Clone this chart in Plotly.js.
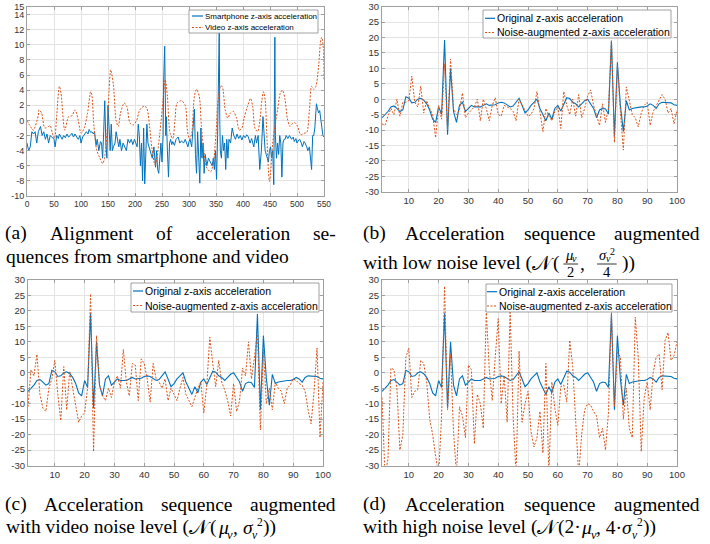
<!DOCTYPE html>
<html><head><meta charset="utf-8">
<script src="https://cdn.plot.ly/plotly-3.0.1.min.js"></script>
<style>html,body{margin:0;padding:0;background:#fff}#chart{width:710px;height:544px}</style>
</head><body><div id="chart"></div>
<script>
// ---------------- DATA ----------------
// (a) smartphone z-axis acceleration (sample index, value)
const phoneT = [0,3,6,9,12,15,18,21,25,28,
31,34,37,40,43,46,50,52,55,58,
60,63,65,68,71,74,77,80,83,86,
89,92,95,98,100,103,105,108,110,113,
115,118,120,123,125,128,130,133,136,138,
140,142,144,146,148,150,152,154,156,158,
160,163,165,168,170,172,175,178,181,184,
187,190,193,196,199,202,204,206,208,210,
212,214,216,218,220,222,224,226,229,232,
235,238,240,242,244,246,248,250,252,253,
255,257,258,260,262,264,266,268,270,273,
276,280,283,286,290,293,296,298,300,302,
305,308,310,312,314,316,318,320,322,324,
326,328,330,333,336,340,343,345,347,349,
351,353,355,356,357,358,360,362,364,366,
368,370,372,374,377,380,383,386,389,392,
395,398,401,404,407,410,413,416,420,423,
425,428,431,434,437,439,441,443,445,447,
449,451,453,455,457,458,459,460,462,464,
466,468,470,472,474,476,478,480,483,486,
490,493,495,498,500,503,505,508,510,513,
515,518,520,523,525,527,529,531,533,536,
538,540,542,544,546,548,550];
const phoneV = [-3,-4,-3.5,-1.5,-1.8,-1.5,-3,-1.5,-0.8,-2,
-1.5,-2.5,-1.8,-3,-2,-2.2,-2.5,-3.5,-2,-2.4,
-1.8,-2.2,-2.5,-2,-2.3,-1.8,-2.2,-2,-1.7,-2.2,
-1.8,-2.2,-2.5,-2,-3,-2.2,-2,-1.6,-1.5,-1.8,
-1.2,-1.6,-1.5,-1.8,-1.5,-3.3,-2.5,-4,-2.8,-3,
-5,-1.5,2.6,-3,-5,2,-2,-4,-0.5,-4,
-3.5,-3,-1.5,-2.5,-3.5,-2.5,-4,-3,-3.5,-4,
-2.5,-3,-2.5,-3.2,-2.5,-3,-3.5,-0.5,-2,-6,
-3,-8,-1,-8.4,-3,-0.5,-3,-3.5,-4.5,-5,
-3.5,-6.2,-4,-6.5,-7,-5,-3,-5.5,-2,5,
9.8,-2,0.5,-4,-7.5,-3,-2.5,-3.2,-2.8,-3.3,
-2.5,-2.2,-3,-2.7,-3,-2.5,-3.2,-3.5,-2.8,-2.5,
-3.5,-1,1.5,-4.5,-7,-1.5,-5,-8.3,-1,-5,
-3,-7,-4.5,-6,-5,-5.5,-6,-5,-6.5,-4,
-7.8,-2,5,12,0,-4,-5,-2,-4,-3,
-6.5,-2.5,-5,-2.5,-3,-1,-2,-2.5,-1.8,-2.4,
-2,-2.6,-2,-2.3,-1.9,-2.2,-3,-2.4,-3.5,-2,
-3,-2,-6.5,-4,0.5,-2.5,-4,-4.5,-5,-5.5,
-4,-3.5,-5,-4,-8.5,-1,11,-2,-5,-3,
-4.5,-2,-3,-7.5,-3,-2.5,-2.5,-2,-2.4,-2,
-2.5,-2.2,-2.8,-2.4,-3,-2.6,-2.5,-3,-3.5,-2.8,
-3,-3.5,-4,-3.5,-5,-6.5,-2,-2,-1,2.2,
1.5,1,1.3,0,-1,-2,-2.2];

// (a) video z-axis acceleration
const videoT = [0,9,12,21,22,27,33,40,43,47,
51,55,60,63,70,77,83,89,95,100,
106,112,118,120,124,129,135,140,143,148,
152,155,160,165,169,173,180,185,191,197,
203,209,217,222,227,231,237,240,246,252,
256,260,265,270,274,278,286,293,297,301,
305,310,314,319,323,328,333,340,345,350,
354,359,362,367,372,376,382,388,393,398,
402,408,414,418,422,427,431,435,438,441,
444,447,449,451,455,459,464,469,473,478,
482,487,492,496,501,507,513,518,523,527,
531,535,540,544,546,549,550];
const videoV = [0,-1.1,-1.3,0.7,1.4,1,-1,-0.8,-0.7,-1.7,
-2.4,0.7,4.5,3.6,-1.3,0.5,0.6,1.4,0,-1.7,
-1,0.9,3.8,3.4,-0.8,-3.9,-5,-5.7,-5.2,-1.7,
4,6.7,4.7,0,-0.8,0.9,2.3,1.8,-0.4,-0.6,
0,1.4,1.9,1.6,-0.8,-3.5,-5.9,-5.2,-1.7,2.7,
5.4,3.2,-1.7,-2.4,0,2.3,2.6,2,-1.3,-2.5,
-1.7,3.2,4.1,3.2,-0.8,-4.3,-6.3,-6.8,-5.7,-1.7,
2.7,4.6,4.4,1.4,0.3,0.9,1.2,0.3,-1.3,-1,
0.3,1.8,2.9,1.8,-1,-1.5,-0.2,2.7,3.8,2.7,
-1.7,-6.5,-8.1,-7,-3,-0.8,1.4,3.6,4,2.7,
0.3,-0.8,-0.4,-0.3,-0.8,-1.9,-1.7,-1.6,1.4,4.5,
4.1,4.5,7.2,10.6,11,9.3,5.4];

// (b)-(d) original z-axis acceleration, samples 1..100
const originalAcc = [-6,-5,-4,-2.5,-2.2,-3,-4,-3.5,0.8,0.3,
-1.2,-1,0,0.3,-0.3,-1.5,-3.5,-6.5,-7.5,-2.5,
-4.8,19.2,-11.5,10,-4,-7.5,-2,-1,-4,-3,
-2,-2.5,-2.4,-2.5,-2,-1.5,-2,-2,-1.8,-1.2,
-1,-1.2,-2,-2.5,-2.2,-1,0.3,-2,-4.5,-3.5,
-2,-1,0,-3,-5,-7,-4.5,-6.5,-3,-2,
-3.8,-1.5,0.5,0.2,-1,-1.5,-2.5,-1.5,-0.5,0,
-1.5,-3,-6,-3.5,-3,-3.2,-4.8,19,-12,12,
-2,-10.5,-0.5,-3.5,-3,-2.8,-2.8,-2.5,-2.5,-2.2,
-1.5,-2,-3,-1.5,-1,-1,-1,-1.2,-1.8,-2];

// (b) noise-augmented, low noise level
const noiseLow = [-8,-8.5,-5.5,-3,-5,0,-5.5,-1,-1,-0.5,
7.5,-1,-2.5,4.2,-4.5,-0.5,-3,-5,-12.5,-2,
-6.5,11.5,-10,13,-3,-5,-3.5,2,-6,-4.5,
-3.5,-2.5,0,-7,0,-3,-7,-2,0.5,-5,
-5.5,-2,-2.5,-3,-4,-7,0,-2,-4,-5.5,
-5,-3,2.5,-3.5,-10.5,-3,-5.5,-7,-4,-2.5,
-9.5,2.5,-2,-5,0,-5.5,1.5,-6,-3,1,
3,-2,-5,-8.5,-1.5,-7.5,-3,19,-14,11,
-4,-16.5,4,0,-5,-6,-9,-4.5,-2,-1,
-8.5,-4,-2,0,1.5,0,-4.5,-3,-8,-3.5];

// (c) noise-augmented, video noise level
const noiseVideo = [-11,1,-1,6,-7,-11.5,-12.5,-5,-2,4,
-7,-15.5,2,-12,0.5,-5,-10,-16,-14,-13,
-5,25.5,-25.5,12,-4,-7.5,-9,-5,-8,-3,
-1,-5,7.5,-3,-7.5,3,2.5,-9,4.5,3,
-2,-9.5,3,-2,-3,-5,-2,-9,-5,-7,
-9,-5,-1.5,-7,-9,-11,-8,-5,-3,-13,
-4,11.5,3,-4.5,4,-3,-5.5,-9,-14,-3.5,
-12.5,-9,1.5,-1,10,-2,5,13,-18.5,7.5,
-10,-5,-12,-3,-5,-6,-10,-5,-4,-2,
-2.5,-3.5,-4,-6,-12,-16.5,-6,8,-21,-3];

// (d) noise-augmented, high noise level
const noiseHigh = [-8,-33,-28,1.5,1,-5,-25,-20,5,8,
-8,-6,-5.5,4,3,-3,-15,-20,-27,-33,
-14,28,-12,6,-19,-33,-11,-14,-21,2.5,
1,-23,-7,-10,-18,20,1,-9,5,17.5,
-10,-1,-16,20,-14,-33,7,-16,-10,-6,
-19,-24,-21,-12.5,-26,3,-33,-3,-11.5,-17,
-4.5,-4,-9.5,10.5,2,-15,-33,-20,-12,-10,
-10.5,-12.5,-14,-21,-18,-25,-13,19.5,-11,7,
5,-15,-5,-18,-21,18,5,-25.5,-8,-3,
-12,0,5,6,-5.5,10.5,13,4,5.5,10];

const sampleIdx = originalAcc.map((_, i) => i + 1);

const xTicksA = [0,50,100,150,200,250,300,350,400,450,500,550];
const yTicksA = [-10,-8,-6,-4,-2,0,2,4,6,8,10,12,14,15];
const xTicksB = [10,20,30,40,50,60,70,80,90,100];
const yTicksB = [-30,-25,-20,-15,-10,-5,0,5,10,15,20,25,30];

const legendA = ['Smartphone z-axis acceleration', 'Video z-axis acceleration'];
const legendB = ['Original z-axis acceleration', 'Noise-augmented z-axis acceleration'];

// ---------------- STYLE / LAYOUT ----------------
const W = 710, H = 544;
const BLUE = '#0072BD', ORANGE = '#D95319';
const DASH = '2px,1.5px';
const px = x => x / W, py = y => 1 - y / H;
const TICKF = 'Liberation Sans, Arial, sans-serif';
const CAPF = 'Liberation Serif';

function xax(l, r, range, ticks, fs, anchor) {
  return {domain:[px(l), px(r)], range, tickvals:ticks, ticktext:ticks.map(String), anchor,
    showgrid:true, gridcolor:'#e3e3e3', gridwidth:1, zeroline:false,
    showline:true, linecolor:'#a0a0a0', linewidth:1, mirror:'ticks',
    ticks:'inside', ticklen:3, tickcolor:'#a0a0a0',
    tickfont:{family:TICKF, size:fs, color:'#333'}, fixedrange:true};
}
function yax(top, bot, range, ticks, fs, anchor) {
  return {domain:[py(bot), py(top)], range, tickvals:ticks, ticktext:ticks.map(String), anchor,
    showgrid:true, gridcolor:'#e3e3e3', gridwidth:1, zeroline:false,
    showline:true, linecolor:'#a0a0a0', linewidth:1, mirror:'ticks',
    ticks:'inside', ticklen:3, tickcolor:'#a0a0a0',
    tickfont:{family:TICKF, size:fs, color:'#333'}, fixedrange:true};
}

const traces = [
  {x:phoneT, y:phoneV, xaxis:'x', yaxis:'y', mode:'lines', line:{color:BLUE, width:1}},
  {x:videoT, y:videoV, xaxis:'x', yaxis:'y', mode:'lines', line:{color:ORANGE, width:1, dash:DASH, shape:'spline', smoothing:0.8}},
  {x:sampleIdx, y:originalAcc, xaxis:'x2', yaxis:'y2', mode:'lines', line:{color:BLUE, width:1.1}},
  {x:sampleIdx, y:noiseLow, xaxis:'x2', yaxis:'y2', mode:'lines', line:{color:ORANGE, width:1, dash:DASH}},
  {x:sampleIdx, y:originalAcc, xaxis:'x3', yaxis:'y3', mode:'lines', line:{color:BLUE, width:1.1}},
  {x:sampleIdx, y:noiseVideo, xaxis:'x3', yaxis:'y3', mode:'lines', line:{color:ORANGE, width:1, dash:DASH}},
  {x:sampleIdx, y:originalAcc, xaxis:'x4', yaxis:'y4', mode:'lines', line:{color:BLUE, width:1.1}},
  {x:sampleIdx, y:noiseHigh, xaxis:'x4', yaxis:'y4', mode:'lines', line:{color:ORANGE, width:1, dash:DASH}}
];
traces.forEach(t => { t.showlegend = false; t.hoverinfo = 'skip'; });

const shapes = [], annotations = [];

// custom MATLAB-like legends
function legend(box, rows, labels, sx0, sx1, tx, fs) {
  shapes.push({type:'rect', xref:'paper', yref:'paper', x0:px(box[0]), x1:px(box[1]), y0:py(box[3]), y1:py(box[2]),
    fillcolor:'#fff', line:{color:'#8c8c8c', width:0.8}, layer:'above'});
  const styles = [{color:BLUE, width:1.2}, {color:ORANGE, width:1.1, dash:DASH}];
  rows.forEach((ry, i) => {
    shapes.push({type:'line', xref:'paper', yref:'paper', x0:px(sx0), x1:px(sx1), y0:py(ry), y1:py(ry), line:styles[i], layer:'above'});
    annotations.push({xref:'paper', yref:'paper', x:px(tx), y:py(ry), xanchor:'left', yanchor:'middle',
      text:labels[i], showarrow:false, borderpad:0, font:{family:TICKF, size:fs, color:'#000'}});
  });
}
legend([189, 318, 10, 33], [16, 27.5], legendA, 192, 203, 204, 8);
legend([483, 671, 10, 38], [18.3, 32.5], legendB, 485, 495, 496, 10.5);
legend([131, 319, 283, 312], [291, 305.5], legendB, 133, 143, 144, 10.5);
legend([486, 672, 284, 312], [291.7, 306], legendB, 487, 497, 498, 10.5);

// captions
const ctx = document.createElement('canvas').getContext('2d');
function tw(text, size, italic) { ctx.font = (italic ? 'italic ' : '') + size + 'px "' + CAPF + '"'; return ctx.measureText(text).width; }
function put(text, x, base, size, italic, anchor) {
  annotations.push({xref:'paper', yref:'paper', x:px(x), y:py(base - 0.3375 * size), xanchor:anchor || 'left', yanchor:'middle',
    text: italic ? '<i>' + text + '</i>' : text, showarrow:false, borderpad:0, borderwidth:0,
    font:{family:CAPF, size, color:'#000'}});
}
const FS = 19.5;
function justify(words, L, R, base) {
  const ws = words.map(w => tw(w, FS));
  const gap = (R - L - ws.reduce((a, b) => a + b, 0)) / (words.length - 1);
  let x = L;
  words.forEach((w, i) => { put(w, x, base, FS); x += ws[i] + gap; });
}
// sequential run of pieces: {t, z, i, dy, dx, adv, w}
function run(items, x, base) {
  items.forEach(it => {
    const z = it.z || FS;
    put(it.t, x + (it.dx || 0), base + (it.dy || 0), z, it.i);
    if (it.adv !== false) x += (it.w !== undefined ? it.w : tw(it.t, z, it.i)) + (it.dx || 0);
  });
  return x;
}

justify(['(a)', 'Alignment', 'of', 'acceleration', 'se-'], 5, 336, 240);
put('quences from smartphone and video', 6, 263, FS);
justify(['(b)', 'Acceleration', 'sequence', 'augmented'], 363, 700, 240);
justify(['(c)', 'Acceleration', 'sequence', 'augmented'], 5, 336, 511);
justify(['(d)', 'Acceleration', 'sequence', 'augmented'], 363, 700, 511);

// (b) line 2 with fractions
(function(){
  const base = 270;
  let x = run([{t:'with low noise level ('}, {t:'𝒩'}, {t:'(', dx:2}], 363, base);
  const SZ = 14.5, SS = 10;
  function frac(numItems, den, x0) {
    const nw = numItems.reduce((a, it) => a + (it.adv === false ? 0 : (it.w !== undefined ? it.w : tw(it.t, it.z || SZ, it.i))), 0);
    const dw = tw(den, SZ);
    const w = Math.max(nw, dw) + 3;
    run(numItems, x0 + (w - nw) / 2, base - 10.5);
    put(den, x0 + w / 2, base + 6.5, SZ, false, 'center');
    shapes.push({type:'line', xref:'paper', yref:'paper', x0:px(x0), x1:px(x0 + w), y0:py(base - 6), y1:py(base - 6), line:{color:'#000', width:0.8}});
    return x0 + w;
  }
  x = frac([{t:'μ', z:SZ, i:true}, {t:'v', z:SS, i:true, dy:2.5}], '2', x + 4);
  x = run([{t:','}], x + 2, base);
  x = frac([{t:'σ', z:SZ, i:true}, {t:'v', z:SS, i:true, dy:2.5}, {t:'2', z:SS, dy:-5}], '4', x + 12);
  run([{t:'))'}], x + 5, base);
})();

// (c) line 2
run([{t:'with video noise level ('}, {t:'𝒩'}, {t:'(', dx:2}, {t:'μ', i:true, dx:1}, {t:'v', z:12.5, i:true, dy:5}, {t:', '}, {t:'σ', i:true},
  {t:'v', z:11.5, i:true, dy:5}, {t:'2', z:11.5, dy:-8}, {t:'))'}], 6, 534);
// (d) line 2
run([{t:'with high noise level ('}, {t:'𝒩'}, {t:'(2·', dx:2}, {t:'μ', i:true}, {t:'v', z:12.5, i:true, dy:5}, {t:', 4·'}, {t:'σ', i:true},
  {t:'v', z:11.5, i:true, dy:5}, {t:'2', z:11.5, dy:-8}, {t:'))'}], 363, 534);

const layout = {
  width:W, height:H, margin:{l:0, r:0, t:0, b:0}, paper_bgcolor:'#fff', plot_bgcolor:'#fff', showlegend:false,
  xaxis: xax(27, 324, [0, 550], xTicksA, 8.5, 'y'),
  yaxis: yax(7, 196, [-10, 15], yTicksA, 9, 'x'),
  xaxis2: xax(382, 677, [1, 100], xTicksB, 9.5, 'y2'),
  yaxis2: yax(6.7, 191.7, [-30, 30], yTicksB, 9.5, 'x2'),
  xaxis3: xax(28, 323, [1, 100], xTicksB, 9.5, 'y3'),
  yaxis3: yax(280, 465.5, [-30, 30], yTicksB, 9.5, 'x3'),
  xaxis4: xax(382, 677, [1, 100], xTicksB, 9.5, 'y4'),
  yaxis4: yax(280, 465.5, [-30, 30], yTicksB, 9.5, 'x4'),
  shapes, annotations
};
Plotly.newPlot('chart', traces, layout, {staticPlot:true, displayModeBar:false});
</script></body></html>
